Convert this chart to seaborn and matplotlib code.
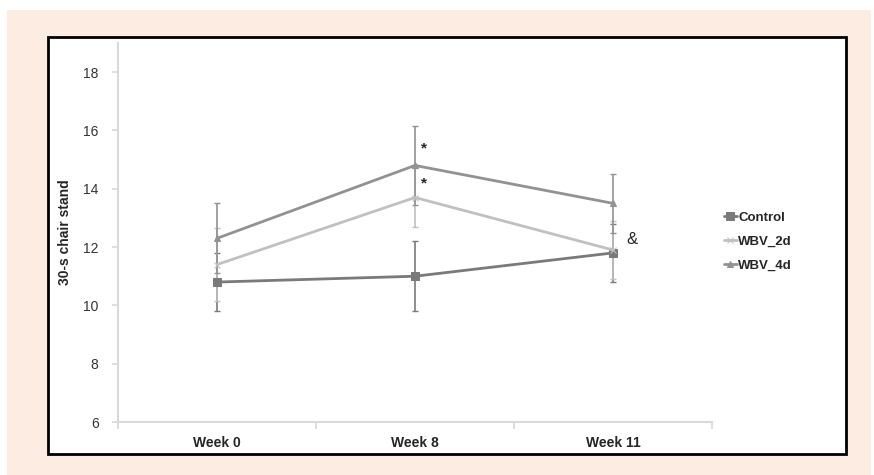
import numpy as np
import pandas as pd
import seaborn as sns
import matplotlib.pyplot as plt
from matplotlib.patches import Rectangle

# dados
weeks = ['Week 0', 'Week 8', 'Week 11']
groups = ['Control', 'WBV_2d', 'WBV_4d']
control = [10.8, 11.0, 11.8]
wbv_2d = [11.4, 13.7, 11.9]
wbv_4d = [12.3, 14.8, 13.5]
control_err = [1.0, 1.2, 1.0]
wbv_2d_err = [1.25, 1.0, 1.0]
wbv_4d_err = [1.2, 1.35, 1.0]

dados = pd.DataFrame({
    'week': weeks * 3,
    'pos': [0, 1, 2] * 3,
    'group': np.repeat(groups, 3),
    'value': control + wbv_2d + wbv_4d,
    'err': control_err + wbv_2d_err + wbv_4d_err,
})

sns.set_theme(style='white')
plt.rcParams['font.family'] = ['Liberation Sans', 'DejaVu Sans']

fig = plt.figure(figsize=(8.74, 4.75), dpi=100)
fig.patch.set_facecolor('white')
fig.patches.append(Rectangle((7 / 874, 0), 864 / 874, 465 / 475, transform=fig.transFigure,
                             facecolor='#fdece2', edgecolor='none', zorder=-2))
fig.patches.append(Rectangle((48 / 874, 21 / 475), 798 / 874, 417 / 475, transform=fig.transFigure,
                             facecolor='white', edgecolor='black', linewidth=2, zorder=-1))

ax = fig.add_axes([118 / 874, 53 / 475, 594 / 874, 379 / 475])
ax.set_facecolor('none')

cores = {'Control': '#7a7a7a', 'WBV_2d': '#c0c0c0', 'WBV_4d': '#929292'}
marcadores = {'Control': 's', 'WBV_2d': 'x', 'WBV_4d': '^'}
tamanhos = {'Control': 6, 'WBV_2d': 5, 'WBV_4d': 4.5}

for g in groups:
    sub = dados[dados['group'] == g]
    # barras de erro
    ax.errorbar(sub['pos'], sub['value'], yerr=sub['err'], fmt='none',
                ecolor=cores[g], elinewidth=1.2, capsize=2.5, capthick=1, zorder=1)
    sns.lineplot(data=sub, x='pos', y='value', color=cores[g], marker=marcadores[g],
                 markersize=tamanhos[g], markeredgecolor=cores[g], linewidth=2,
                 label=g, ax=ax, zorder=2)

ax.set_xlim(-0.5, 2.5)
ax.set_ylim(6, 19)
ax.set_yticks([6, 8, 10, 12, 14, 16, 18])
ax.set_xticks([-0.5, 0.5, 1.5, 2.5])
ax.set_xticklabels([])
ax.set_xticks([0, 1, 2], minor=True)
ax.set_xticklabels(weeks, minor=True, fontweight='bold', fontsize=10)
ax.tick_params(axis='x', which='major', length=5, color='#d9d9d9', direction='out', bottom=True)
ax.tick_params(axis='x', which='minor', length=0, pad=10)
ax.tick_params(axis='y', length=4, color='#d9d9d9', direction='out', left=True, labelsize=10,
               labelcolor='#333333', pad=10)
for s in ['top', 'right']:
    ax.spines[s].set_visible(False)
for s in ['left', 'bottom']:
    ax.spines[s].set_color('#d9d9d9')
    ax.spines[s].set_linewidth(1.5)

ax.set_xlabel('')
ax.set_ylabel('30-s chair stand', fontweight='bold', fontsize=10, labelpad=8)

ax.text(1.03, 15.25, '*', fontsize=11, fontweight='bold')
ax.text(1.03, 14.05, '*', fontsize=11, fontweight='bold')
ax.text(2.07, 12.1, '&', fontsize=12)

leg = ax.legend(loc='center left', bbox_to_anchor=(1.0, 0.476), frameon=False,
                handlelength=1.0, handletextpad=0.1, labelspacing=0.9,
                prop={'weight': 'bold', 'size': 9.5})

plt.savefig('out.png', dpi=100)
